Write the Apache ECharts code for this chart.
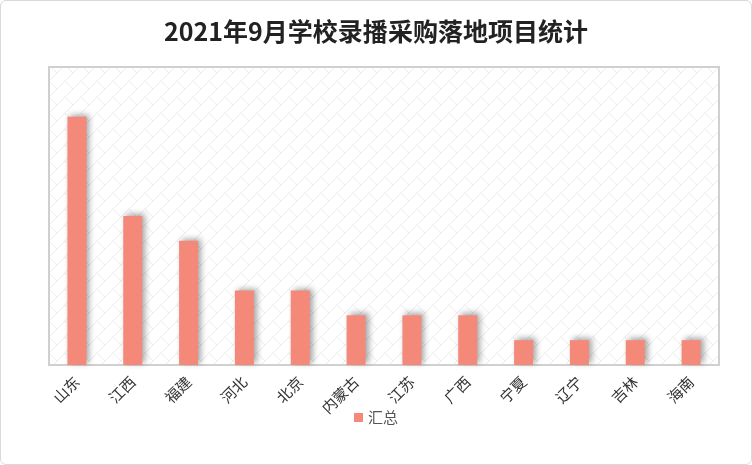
<!DOCTYPE html>
<html><head><meta charset="utf-8">
<script src="https://cdn.jsdelivr.net/npm/echarts@6/dist/echarts.min.js"></script>
<style>html,body{margin:0;padding:0;}#c{width:752px;height:465px;box-sizing:border-box;border:1px solid #d9d9d9;border-radius:6px;}</style>
</head><body><div id="c"></div>
<script>
const categories = ['山东','江西','福建','河北','北京','内蒙古','江苏','广西','宁夏','辽宁','吉林','海南'];
const values = [10,6,5,3,3,2,2,2,1,1,1,1];
const seriesName = '汇总';
const chart = echarts.init(document.getElementById('c'));
const cv = document.createElement('canvas'); cv.width = 16; cv.height = 16;
const g = cv.getContext('2d'); g.fillStyle='#fff'; g.fillRect(0,0,16,16);
g.strokeStyle='#ececec'; g.lineWidth=1;
g.beginPath(); g.moveTo(0,16); g.lineTo(16,0); g.moveTo(0,0); g.lineTo(8,8); g.stroke();
chart.setOption({
  title:{text:'2021年9月学校录播采购落地项目统计',left:'center',top:13,textStyle:{fontSize:25,fontWeight:'bold',color:'#222',fontFamily:'Noto Sans CJK SC'}},
  legend:{data:[seriesName],bottom:34,left:'center',icon:'rect',itemWidth:9,itemHeight:9,textStyle:{fontSize:15,color:'#555',fontFamily:'Noto Sans CJK SC'}},
  grid:{left:48,right:32,top:66,bottom:99,show:true,borderColor:'#d0d0d0',borderWidth:2,backgroundColor:{image:cv,repeat:'repeat'}},
  xAxis:{type:'category',data:categories,axisLine:{show:false},axisTick:{show:false},
    axisLabel:{rotate:45,fontSize:15,color:'#333',margin:14,fontFamily:'Noto Sans CJK SC'}},
  yAxis:{type:'value',min:0,max:12,show:false,splitLine:{show:false}},
  series:[{name:seriesName,type:'bar',data:values,barWidth:19,barGap:0,
    itemStyle:{color:'#f4897a',shadowColor:'rgba(0,0,0,0.35)',shadowBlur:6,shadowOffsetX:3,shadowOffsetY:-2}}]
});
</script></body></html>
